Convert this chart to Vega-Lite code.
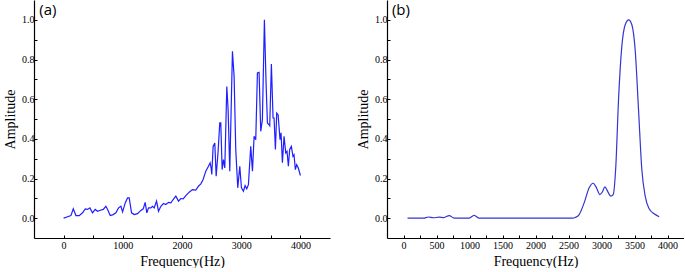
{
  "$schema": "https://vega.github.io/schema/vega-lite/v6.json",
  "autosize": {"type": "pad"},
  "padding": {"left": 3, "top": 0, "right": 0, "bottom": 0},
  "bounds": "flush",
  "spacing": 57,
  "config": {
    "view": {"stroke": null},
    "font": "Liberation Serif",
    "axis": {
      "labelFont": "Liberation Serif",
      "titleFont": "Liberation Serif",
      "labelFontSize": 10,
      "titleFontSize": 14,
      "titleFontWeight": "normal",
      "labelColor": "#000",
      "titleColor": "#000",
      "domainColor": "#000",
      "tickColor": "#000",
      "domainWidth": 1.2,
      "tickWidth": 1,
      "tickSize": -3,
      "tickCount": 100,
      "grid": false,
      "labelFlush": false,
      "labelOverlap": false
    }
  },
  "datasets": {
    "a": [
      {"f": 0, "amp": 0.0}, {"f": 68, "amp": 0.007}, {"f": 124, "amp": 0.013}, {"f": 163, "amp": 0.047},
      {"f": 208, "amp": 0.013}, {"f": 264, "amp": 0.013}, {"f": 320, "amp": 0.027}, {"f": 366, "amp": 0.047},
      {"f": 405, "amp": 0.044}, {"f": 444, "amp": 0.052}, {"f": 489, "amp": 0.027}, {"f": 534, "amp": 0.044},
      {"f": 574, "amp": 0.035}, {"f": 619, "amp": 0.04}, {"f": 670, "amp": 0.044}, {"f": 714, "amp": 0.06},
      {"f": 743, "amp": 0.044}, {"f": 788, "amp": 0.013}, {"f": 838, "amp": 0.018}, {"f": 883, "amp": 0.027},
      {"f": 928, "amp": 0.052}, {"f": 968, "amp": 0.06}, {"f": 996, "amp": 0.032}, {"f": 1041, "amp": 0.077},
      {"f": 1080, "amp": 0.102}, {"f": 1108, "amp": 0.102}, {"f": 1148, "amp": 0.027}, {"f": 1193, "amp": 0.018},
      {"f": 1249, "amp": 0.023}, {"f": 1305, "amp": 0.039}, {"f": 1345, "amp": 0.047}, {"f": 1378, "amp": 0.08},
      {"f": 1406, "amp": 0.027}, {"f": 1435, "amp": 0.052}, {"f": 1474, "amp": 0.052}, {"f": 1502, "amp": 0.06},
      {"f": 1530, "amp": 0.052}, {"f": 1570, "amp": 0.086}, {"f": 1603, "amp": 0.035}, {"f": 1643, "amp": 0.06},
      {"f": 1688, "amp": 0.074}, {"f": 1727, "amp": 0.069}, {"f": 1772, "amp": 0.08}, {"f": 1812, "amp": 0.077},
      {"f": 1851, "amp": 0.094}, {"f": 1896, "amp": 0.111}, {"f": 1941, "amp": 0.086}, {"f": 1980, "amp": 0.099},
      {"f": 2020, "amp": 0.097}, {"f": 2065, "amp": 0.114}, {"f": 2121, "amp": 0.131}, {"f": 2177, "amp": 0.144},
      {"f": 2233, "amp": 0.141}, {"f": 2278, "amp": 0.161}, {"f": 2318, "amp": 0.173}, {"f": 2357, "amp": 0.195},
      {"f": 2402, "amp": 0.237}, {"f": 2447, "amp": 0.262}, {"f": 2475, "amp": 0.279}, {"f": 2492, "amp": 0.253},
      {"f": 2503, "amp": 0.22}, {"f": 2526, "amp": 0.362}, {"f": 2554, "amp": 0.379}, {"f": 2577, "amp": 0.211},
      {"f": 2610, "amp": 0.337}, {"f": 2638, "amp": 0.48}, {"f": 2655, "amp": 0.48}, {"f": 2678, "amp": 0.245},
      {"f": 2700, "amp": 0.295}, {"f": 2723, "amp": 0.253}, {"f": 2757, "amp": 0.664}, {"f": 2779, "amp": 0.547},
      {"f": 2807, "amp": 0.237}, {"f": 2852, "amp": 0.841}, {"f": 2880, "amp": 0.715}, {"f": 2908, "amp": 0.346},
      {"f": 2942, "amp": 0.153}, {"f": 2976, "amp": 0.262}, {"f": 3004, "amp": 0.153}, {"f": 3038, "amp": 0.136},
      {"f": 3066, "amp": 0.164}, {"f": 3094, "amp": 0.148}, {"f": 3122, "amp": 0.169}, {"f": 3161, "amp": 0.362},
      {"f": 3190, "amp": 0.237}, {"f": 3218, "amp": 0.413}, {"f": 3246, "amp": 0.396}, {"f": 3274, "amp": 0.732},
      {"f": 3302, "amp": 0.735}, {"f": 3330, "amp": 0.438}, {"f": 3358, "amp": 0.497}, {"f": 3392, "amp": 1.0},
      {"f": 3420, "amp": 0.681}, {"f": 3443, "amp": 0.48}, {"f": 3471, "amp": 0.471}, {"f": 3482, "amp": 0.466},
      {"f": 3510, "amp": 0.777}, {"f": 3538, "amp": 0.505}, {"f": 3555, "amp": 0.505}, {"f": 3578, "amp": 0.346},
      {"f": 3600, "amp": 0.53}, {"f": 3623, "amp": 0.522}, {"f": 3656, "amp": 0.396}, {"f": 3673, "amp": 0.43},
      {"f": 3696, "amp": 0.279}, {"f": 3724, "amp": 0.413}, {"f": 3752, "amp": 0.329}, {"f": 3774, "amp": 0.337},
      {"f": 3797, "amp": 0.262}, {"f": 3819, "amp": 0.346}, {"f": 3847, "amp": 0.362}, {"f": 3875, "amp": 0.312},
      {"f": 3892, "amp": 0.32}, {"f": 3915, "amp": 0.245}, {"f": 3937, "amp": 0.27}, {"f": 3965, "amp": 0.253},
      {"f": 4000, "amp": 0.215}
    ],
    "b": [
      {"f": 61, "amp": 0.0}, {"f": 300, "amp": 0.0}, {"f": 379, "amp": 0.006}, {"f": 450, "amp": 0.002},
      {"f": 540, "amp": 0.005}, {"f": 610, "amp": 0.003}, {"f": 692, "amp": 0.013}, {"f": 768, "amp": 0.0},
      {"f": 990, "amp": 0.0}, {"f": 1071, "amp": 0.014}, {"f": 1146, "amp": 0.0}, {"f": 2560, "amp": 0.0},
      {"f": 2601, "amp": 0.003}, {"f": 2662, "amp": 0.018}, {"f": 2737, "amp": 0.077}, {"f": 2813, "amp": 0.153},
      {"f": 2874, "amp": 0.176}, {"f": 2924, "amp": 0.153}, {"f": 2975, "amp": 0.119}, {"f": 3015, "amp": 0.133},
      {"f": 3051, "amp": 0.158}, {"f": 3091, "amp": 0.136}, {"f": 3141, "amp": 0.111}, {"f": 3177, "amp": 0.119},
      {"f": 3217, "amp": 0.262}, {"f": 3258, "amp": 0.597}, {"f": 3308, "amp": 0.866}, {"f": 3359, "amp": 0.975},
      {"f": 3412, "amp": 1.0}, {"f": 3460, "amp": 0.975}, {"f": 3510, "amp": 0.849}, {"f": 3561, "amp": 0.547},
      {"f": 3611, "amp": 0.245}, {"f": 3662, "amp": 0.111}, {"f": 3722, "amp": 0.047}, {"f": 3798, "amp": 0.022},
      {"f": 3874, "amp": 0.007}
    ],
    "la": [{"f": -410, "amp": 1.05, "t": "(a)"}],
    "lb": [{"f": -175, "amp": 1.05, "t": "(b)"}]
  },
  "hconcat": [
    {
      "width": 296,
      "height": 238,
      "layer": [
        {
          "data": {"name": "a"},
          "mark": {"type": "line", "color": "#1f1fff", "strokeWidth": 1.2, "interpolate": "linear"},
          "encoding": {
            "x": {"field": "f", "type": "quantitative", "scale": {"domain": [-500, 4500], "nice": false, "zero": false},
              "axis": {"title": "Frequency(Hz)", "values": [0, 500, 1000, 1500, 2000, 2500, 3000, 3500, 4000],
                "labelExpr": "(datum.value % 1000 == 0) ? format(datum.value, 'd') : ''",
                "labelPadding": 5, "titlePadding": 4}},
            "y": {"field": "amp", "type": "quantitative", "scale": {"domain": [-0.1, 1.1], "nice": false, "zero": false},
              "axis": {"title": "Amplitude", "values": [0, 0.1, 0.2, 0.3, 0.4, 0.5, 0.6, 0.7, 0.8, 0.9, 1.0],
                "labelExpr": "(round(datum.value * 10) % 2 == 0) ? format(datum.value, '.1f') : ''",
                "labelPadding": 3, "titlePadding": 4}}
          }
        },
        {
          "data": {"name": "la"},
          "mark": {"type": "text", "font": "Open Sans", "fontSize": 15, "align": "left", "baseline": "middle", "color": "#000"},
          "encoding": {
            "x": {"field": "f", "type": "quantitative"},
            "y": {"field": "amp", "type": "quantitative"},
            "text": {"field": "t"}
          }
        }
      ]
    },
    {
      "width": 297,
      "height": 238,
      "layer": [
        {
          "data": {"name": "b"},
          "mark": {"type": "line", "color": "#3535d0", "strokeWidth": 1.2, "interpolate": "monotone"},
          "encoding": {
            "x": {"field": "f", "type": "quantitative", "scale": {"domain": [-250, 4250], "nice": false, "zero": false},
              "axis": {"title": "Frequency(Hz)", "values": [0, 250, 500, 750, 1000, 1250, 1500, 1750, 2000, 2250, 2500, 2750, 3000, 3250, 3500, 3750, 4000],
                "labelExpr": "(datum.value % 500 == 0) ? format(datum.value, 'd') : ''",
                "labelPadding": 5, "titlePadding": 4}},
            "y": {"field": "amp", "type": "quantitative", "scale": {"domain": [-0.1, 1.1], "nice": false, "zero": false},
              "axis": {"title": "Amplitude", "values": [0, 0.1, 0.2, 0.3, 0.4, 0.5, 0.6, 0.7, 0.8, 0.9, 1.0],
                "labelExpr": "(round(datum.value * 10) % 2 == 0) ? format(datum.value, '.1f') : ''",
                "labelPadding": 3, "titlePadding": 4}}
          }
        },
        {
          "data": {"name": "lb"},
          "mark": {"type": "text", "font": "Open Sans", "fontSize": 15, "align": "left", "baseline": "middle", "color": "#000"},
          "encoding": {
            "x": {"field": "f", "type": "quantitative"},
            "y": {"field": "amp", "type": "quantitative"},
            "text": {"field": "t"}
          }
        }
      ]
    }
  ]
}
